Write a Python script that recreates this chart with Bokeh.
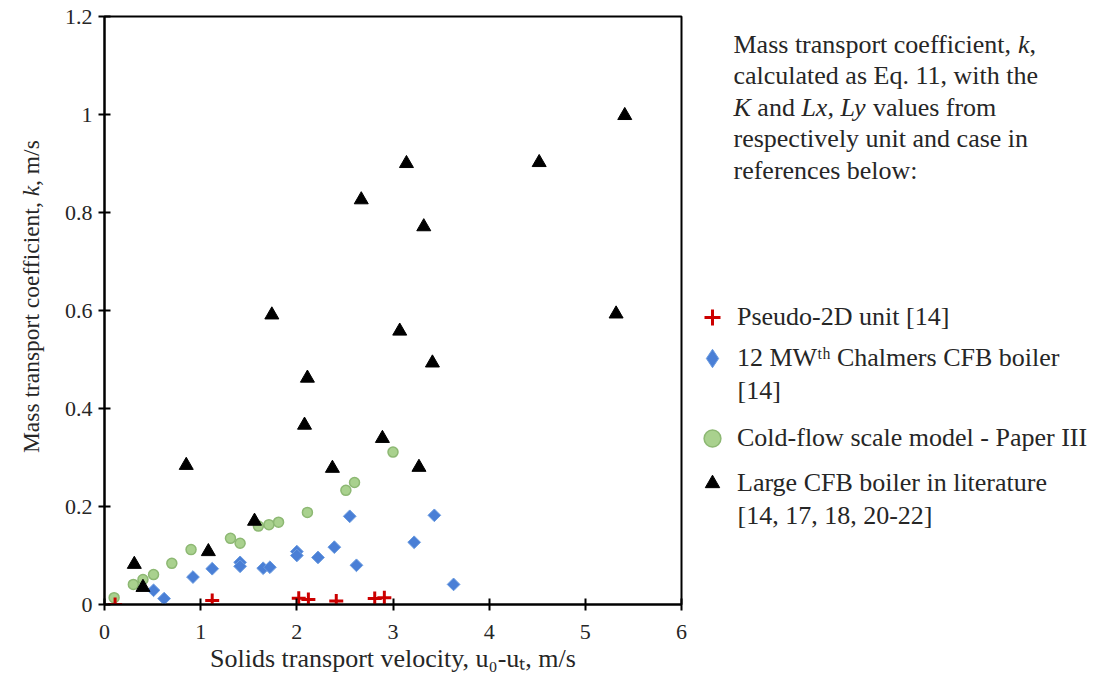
from math import pi
from bokeh.plotting import figure
from bokeh.layouts import row
from bokeh.models import Range1d, FixedTicker, Label, Legend, LegendItem
from bokeh.embed import file_html
from bokeh.resources import INLINE

# ---------------- data ----------------
pseudo_x = [0.11, 1.12, 2.02, 2.12, 2.41, 2.81, 2.91]
pseudo_y = [0.000, 0.008, 0.013, 0.010, 0.007, 0.012, 0.014]

chalmers_x = [0.51, 0.62, 0.92, 1.12, 1.41, 1.41, 1.65, 1.72, 2.00, 2.00, 2.22, 2.39, 2.55, 2.62, 3.22, 3.43, 3.63]
chalmers_y = [0.029, 0.012, 0.056, 0.073, 0.086, 0.078, 0.074, 0.076, 0.108, 0.100, 0.096, 0.117, 0.180, 0.080, 0.127, 0.182, 0.041]

cold_x = [0.10, 0.30, 0.40, 0.51, 0.70, 0.90, 1.31, 1.41, 1.60, 1.71, 1.81, 2.11, 2.51, 2.60, 3.00]
cold_y = [0.014, 0.041, 0.051, 0.061, 0.084, 0.112, 0.135, 0.125, 0.160, 0.163, 0.168, 0.188, 0.233, 0.249, 0.311]

large_x = [0.31, 0.40, 0.85, 1.08, 1.56, 1.74, 2.08, 2.11, 2.37, 2.67, 2.89, 3.07, 3.14, 3.27, 3.32, 3.41, 4.52, 5.32, 5.41]
large_y = [0.082, 0.035, 0.284, 0.108, 0.170, 0.591, 0.366, 0.462, 0.278, 0.826, 0.339, 0.558, 0.900, 0.280, 0.771, 0.493, 0.902, 0.593, 0.998]

x_ticks = [0, 1, 2, 3, 4, 5, 6]
x_tick_labels = ["0", "1", "2", "3", "4", "5", "6"]
y_ticks = [0, 0.2, 0.4, 0.6, 0.8, 1, 1.2]
y_tick_labels = ["0", "0.2", "0.4", "0.6", "0.8", "1", "1.2"]

x_title = "Solids transport velocity, u\u2080-u\u209c, m/s"
series_names = ["Pseudo-2D unit [14]", "12 MW\u1d57\u02b0 Chalmers CFB boiler", "Cold-flow scale model - Paper III",
                "Large CFB boiler in literature"]
series_second_lines = ["", "[14]", "", "[14, 17, 18, 20-22]"]

FONT = "Liberation Serif"
TXT = "#262626"

# series styles
ST_PSEUDO = dict(marker="cross", line_color="#cc0000", line_width=3)
ST_CHAL = dict(marker="square", angle=pi / 4, fill_color="#4a7fd6", line_color="#6a9be0", line_width=1)
ST_COLD = dict(marker="circle", fill_color="#a9d18e", line_color="#8db873", line_width=1.5)
ST_LARGE = dict(marker="triangle", fill_color="black", line_color="black")

# layout (page pixels)
W_Y, W_P, W_R = 50, 643, 407
H = 682
FL, FR, FT, FB = 104, 681, 16, 604


def side(w):
    # helper panel whose data coordinates equal page pixels (frame aligned with the plot frame)
    f = figure(width=w, height=H, x_range=Range1d(0, w), y_range=Range1d(FB, FT),
               x_axis_type=None, y_axis_type=None, output_backend="svg", toolbar_location=None,
               min_border_left=0, min_border_right=0, min_border_top=FT, min_border_bottom=H - FB)
    f.outline_line_color = None
    f.grid.visible = False
    return f


# ---------------- main plot ----------------
p = figure(width=W_P, height=H, x_range=Range1d(0, 6), y_range=Range1d(0, 1.2),
           output_backend="svg", toolbar_location=None,
           min_border_left=FL - W_Y, min_border_right=W_Y + W_P - FR, min_border_top=FT,
           min_border_bottom=H - FB)
p.grid.visible = False
p.outline_line_color = "black"
p.outline_line_width = 2

for ax, ticks, labels in ((p.xaxis, x_ticks, x_tick_labels), (p.yaxis, y_ticks, y_tick_labels)):
    ax.ticker = FixedTicker(ticks=ticks)
    ax.major_label_overrides = {t: l for t, l in zip(ticks, labels)}
    ax.axis_line_color = "black"
    ax.axis_line_width = 2
    ax.major_tick_line_color = "black"
    ax.major_tick_line_width = 2
    ax.major_tick_in = 6
    ax.major_tick_out = 6
    ax.minor_tick_line_color = None
    ax.major_label_text_font = FONT
    ax.major_label_text_font_size = "22px"
    ax.major_label_text_color = TXT
p.xaxis.major_label_standoff = 14
p.yaxis.major_label_standoff = 6
p.xaxis.axis_label = x_title
p.xaxis.axis_label_text_font = FONT
p.xaxis.axis_label_text_font_size = "26px"
p.xaxis.axis_label_text_font_style = "normal"
p.xaxis.axis_label_text_color = TXT
p.xaxis.axis_label_standoff = 2

p.scatter(cold_x, cold_y, size=10, **ST_COLD)
p.scatter(chalmers_x, chalmers_y, size=9, **ST_CHAL)
p.scatter(large_x, large_y, size=14, **ST_LARGE)
p.scatter(pseudo_x, pseudo_y, size=14, **ST_PSEUDO)


def lab(f, text, x, y, size=26, style="normal", angle=0.0, align="left", baseline="alphabetic"):
    f.add_layout(Label(x=x, y=y, text=text, text_font=FONT, text_font_size=f"{size}px",
                       text_font_style=style, text_color=TXT, text_align=align,
                       text_baseline=baseline, angle=angle))


# ---------------- y title (rotated runs, italic k) ----------------
yf = side(W_Y)
uy = 23.5
j1 = 453 - 10.942 * uy  # where the italic k starts
bx = 30
lab(yf, "Mass transport coefficient,", bx, j1 + 0.25 * uy, size=uy, angle=pi / 2, align="right")
lab(yf, "k", bx, j1, size=uy, style="italic", angle=pi / 2)
lab(yf, ", m/s", bx, j1 - 0.444 * uy, size=uy, angle=pi / 2)

# ---------------- right panel: note + legend ----------------
rf = side(W_R)
OX = W_Y + W_P  # page x of right panel
u = 26.0
x0 = 733 - OX
dyb = -7
lab(rf, "Mass transport coefficient,", x0, 50.5 + dyb)
lab(rf, "k", x0 + 10.942 * u, 50.5 + dyb, style="italic")
lab(rf, ",", x0 + 11.386 * u, 50.5 + dyb)
lab(rf, "calculated as Eq. 11, with the", x0, 82 + dyb)
lab(rf, "K", x0, 113.5 + dyb, style="italic")
lab(rf, "and", x0 + 0.917 * u, 113.5 + dyb)
lab(rf, "Lx, Ly", x0 + 2.611 * u, 113.5 + dyb, style="italic")
lab(rf, "values from", x0 + 5.361 * u, 113.5 + dyb)
lab(rf, "respectively unit and case in", x0, 145 + dyb)
lab(rf, "references below:", x0, 176.5 + dyb)

# legend keys (styled like the series; placed outside the visible panel area)
key_pseudo = rf.scatter([-1000], [-1000], size=14, **ST_PSEUDO)
key_chal = rf.scatter([-1000], [-1000], size=12, marker="diamond", fill_color="#4a7fd6",
                      line_color="#6a9be0", line_width=1)
key_cold = rf.scatter([-1000], [-1000], size=10, **ST_COLD)
key_large = rf.scatter([-1000], [-1000], size=14, **ST_LARGE)

# (renderer, centre y on page, glyph box size -> key size is 0.4 * box)
leg_specs = [(key_pseudo, 317, 40), (key_chal, 358, 46), (key_cold, 438, 42), (key_large, 483, 36)]
for (rend, cy, g), name in zip(leg_specs, series_names):
    cx = 712 - OX
    leg = Legend(items=[LegendItem(label=name, renderers=[rend])],
                 location=(cx - g / 2, FB - (cy + g / 2)),
                 glyph_width=g, glyph_height=g, label_height=g,
                 label_standoff=int(round(737 - OX - (cx + g / 2))),
                 padding=0, margin=0, spacing=0,
                 border_line_color=None, background_fill_alpha=0,
                 label_text_font=FONT, label_text_font_size="26px", label_text_color=TXT,
                 label_text_baseline="middle")
    rf.add_layout(leg)

lab(rf, series_second_lines[1], 737 - OX, 397 + dyb)
lab(rf, series_second_lines[3], 737 - OX, 522 + dyb)

layout = row(yf, p, rf, spacing=0)
open("out.html", "w").write(file_html(layout, INLINE))
